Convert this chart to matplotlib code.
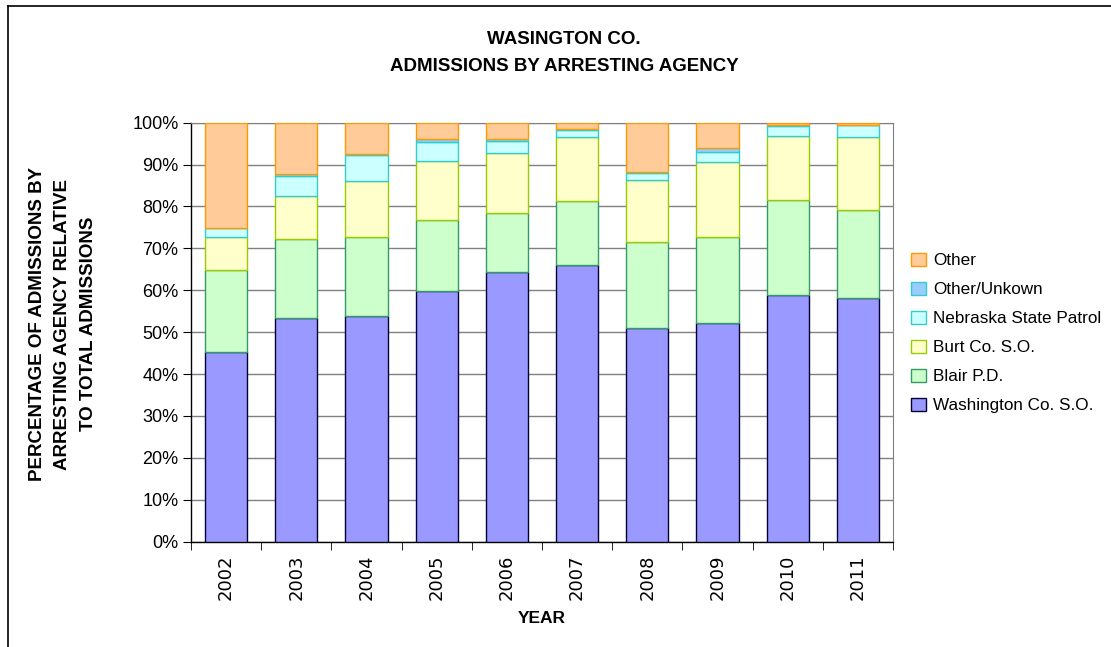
import numpy as np
import matplotlib
matplotlib.use("Agg")
import matplotlib.pyplot as plt
from matplotlib.lines import Line2D
from matplotlib.patches import Patch
from matplotlib.ticker import FuncFormatter

years = ["2002", "2003", "2004", "2005", "2006", "2007", "2008", "2009", "2010", "2011"]

washington_so = [45.3, 53.5, 53.9, 59.8, 64.4, 66.1, 51.1, 52.3, 58.9, 58.2]
blair_pd = [19.6, 18.7, 18.7, 17.0, 14.1, 15.3, 20.4, 20.4, 22.7, 21.0]
burt_so = [7.7, 10.2, 13.5, 14.1, 14.2, 15.2, 14.8, 17.8, 15.3, 17.3]
state_patrol = [2.3, 4.8, 6.1, 4.6, 2.9, 1.7, 1.6, 2.6, 2.2, 3.0]
other_unknown = [0.0, 0.5, 0.3, 0.5, 0.4, 0.3, 0.3, 0.8, 0.3, 0.0]
other = [25.1, 12.3, 7.5, 4.0, 4.0, 1.4, 11.8, 6.1, 0.6, 0.5]

series = [
    ("Washington Co. S.O.", washington_so, "#9999FF", "#000033"),
    ("Blair P.D.", blair_pd, "#CCFFCC", "#339966"),
    ("Burt Co. S.O.", burt_so, "#FFFFCC", "#99CC00"),
    ("Nebraska State Patrol", state_patrol, "#CCFFFF", "#33CCCC"),
    ("Other/Unkown", other_unknown, "#99CCFF", "#33CCCC"),
    ("Other", other, "#FFCC99", "#FF9900"),
]

plt.rcParams["font.family"] = ["Liberation Sans", "DejaVu Sans"]

fig = plt.figure(figsize=(11.11, 6.47), dpi=100)
ax = fig.add_axes([0.1719, 0.1628, 0.8038 - 0.1719, 0.8104 - 0.1628])

x = np.arange(len(years))
bottom = np.zeros(len(years))
handles = []
for name, vals, fill, edge in series:
    vals = np.array(vals)
    ax.bar(x, vals, width=0.6, bottom=bottom, color=fill, edgecolor=edge,
           linewidth=1.0, zorder=3)
    bottom += vals
    handles.append(Patch(facecolor=fill, edgecolor=edge, linewidth=1.0, label=name))

ax.set_xlim(-0.5, len(years) - 0.5)
ax.set_ylim(0, 100)
ax.set_yticks(np.arange(0, 101, 10))
ax.yaxis.set_major_formatter(FuncFormatter(lambda v, p: f"{int(v)}%"))
ax.grid(axis="y", color="#808080", linewidth=1.0, zorder=0)

# category labels in the middle, tick marks on the boundaries
ax.set_xticks(x)
ax.set_xticklabels(years, rotation=90, fontsize=13, family=["DejaVu Sans"])
ax.tick_params(axis="x", length=0, pad=9)
ax.set_xticks(np.arange(-0.5, len(years), 1.0), minor=True)
ax.tick_params(axis="x", which="minor", length=6, direction="out", color="black")
ax.tick_params(axis="y", length=6, direction="out", labelsize=13, color="black", pad=3)

for side in ["top", "right"]:
    ax.spines[side].set_color("#808080")
for side in ["left", "bottom"]:
    ax.spines[side].set_color("black")
    ax.spines[side].set_linewidth(1.0)

ax.set_xlabel("YEAR", fontsize=12.5, fontweight="bold", labelpad=8)

fig.text(0.0567, 1 - 324 / 647,
         "PERCENTAGE OF ADMISSIONS BY\nARRESTING AGENCY RELATIVE\nTO TOTAL ADMISSIONS",
         rotation=90, ha="center", va="center", fontsize=13.5, fontweight="bold",
         linespacing=1.65)

fig.text(564 / 1111, 1 - 53 / 647, "WASINGTON CO.\nADMISSIONS BY ARRESTING AGENCY",
         ha="center", va="center", fontsize=13.5, fontweight="bold", linespacing=1.75)

leg = fig.legend(handles=handles[::-1], loc="center left",
                 bbox_to_anchor=(0.814, 1 - 333 / 647), frameon=False,
                 fontsize=12.3, handlelength=0.85, handleheight=0.85,
                 handletextpad=0.45, labelspacing=0.78, borderaxespad=0)

# outer chart frame
fig.add_artist(Line2D([8 / 1111, 8 / 1111], [0, 1 - 6 / 647], transform=fig.transFigure,
                      color="black", linewidth=1.2))
fig.add_artist(Line2D([8 / 1111, 1], [1 - 6 / 647, 1 - 6 / 647], transform=fig.transFigure,
                      color="black", linewidth=1.2))

fig.savefig("out.png", dpi=100)
